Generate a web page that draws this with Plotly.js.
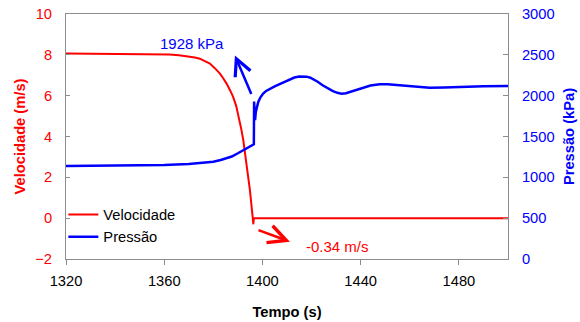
<!DOCTYPE html>
<html>
<head>
<meta charset="utf-8">
<script src="https://cdn.plot.ly/plotly-3.0.1.min.js"></script>
<style>html,body{margin:0;padding:0;background:#fff;}#chart{width:580px;height:322px;}</style>
</head>
<body>
<div id="chart"></div>
<script>
// Velocity (m/s) vs time (s)
var timeVel = [1320, 1335, 1350, 1358, 1362, 1366, 1370.5, 1372.5, 1374.5, 1376.5, 1378.6, 1380.5, 1382.7, 1384, 1385.4, 1387, 1388.1, 1389.3, 1390.5, 1391.4, 1392.2, 1393.5, 1394.9, 1396, 1396.3, 1396.5, 1450, 1500];
var velocidade = [8.07, 8.06, 8.04, 8.03, 8.02, 7.98, 7.92, 7.87, 7.81, 7.71, 7.57, 7.36, 7.08, 6.85, 6.59, 6.22, 5.93, 5.5, 4.9, 4.35, 3.82, 2.68, 1.37, 0.07, -0.3, 0, 0, 0];

// Pressure (kPa) vs time (s)
var timePres = [1320, 1340, 1360, 1370, 1375, 1380, 1383, 1385.4, 1387.5, 1390, 1392.2, 1394.5, 1396.5, 1396.6, 1397, 1397.3, 1397.7, 1398.3, 1399.2, 1400.3, 1401.5, 1403, 1405, 1407, 1409, 1411.2, 1413, 1415, 1416.6, 1418, 1419.5, 1421, 1422.5, 1424.5, 1426.5, 1428.5, 1430.5, 1432.2, 1434, 1436, 1438.3, 1441, 1444, 1447.8, 1451, 1455.9, 1462, 1468.1, 1474, 1479, 1490, 1500];
var pressao = [1140, 1145, 1152, 1162, 1172, 1190, 1212, 1230, 1255, 1295, 1332, 1370, 1405, 1928, 1700, 1800, 1870, 1922, 1980, 2025, 2058, 2086, 2113, 2140, 2168, 2205, 2222, 2234, 2237, 2233, 2220, 2198, 2170, 2128, 2090, 2058, 2035, 2025, 2030, 2048, 2074, 2100, 2124, 2139, 2140, 2127, 2110, 2098, 2100, 2106, 2114, 2118];

var peakLabel = '1928 kPa';
var minLabel = '-0.34 m/s';

var FONT = 'Liberation Sans, Arial, sans-serif';
var GREY = '#8c8c8c';

var traces = [
  {x: timeVel, y: velocidade, type: 'scatter', mode: 'lines', name: 'Velocidade',
   line: {color: '#ff0000', width: 2}, yaxis: 'y', legendgroup: 'a'},
  {x: timePres, y: pressao, type: 'scatter', mode: 'lines', name: 'Pressão',
   line: {color: '#0000ff', width: 2.5}, yaxis: 'y2', legendgroup: 'b'}
];

var layout = {
  width: 580, height: 322,
  margin: {l: 66, r: 72, t: 13.5, b: 63},
  paper_bgcolor: '#fff', plot_bgcolor: '#fff',
  font: {family: FONT, size: 14.7, color: '#000'},
  showlegend: true,
  legend: {x: -0.006, y: 0.247, xanchor: 'left', yanchor: 'top', bgcolor: 'rgba(0,0,0,0)',
           borderwidth: 0, itemwidth: 30, tracegroupgap: 0, traceorder: 'grouped',
           font: {family: FONT, size: 14.7, color: '#000'}},
  xaxis: {range: [1320, 1500], dtick: 40, tick0: 1320, showgrid: false, zeroline: false,
          showline: true, linecolor: GREY, linewidth: 1, mirror: true,
          ticks: 'outside', ticklen: 5, tickcolor: GREY, ticklabelstandoff: 3,
          tickfont: {family: FONT, size: 14.7, color: '#000'},
          title: {text: 'Tempo (s)', font: {family: FONT, size: 14.7, color: '#000', weight: 'bold'}, standoff: 19}},
  yaxis: {range: [-2, 10], dtick: 2, showgrid: false, zeroline: false,
          showline: true, linecolor: GREY, linewidth: 1,
          ticks: 'inside', ticklen: 4, tickcolor: GREY, ticklabelstandoff: 10,
          tickfont: {family: FONT, size: 14.7, color: '#ff0000'},
          title: {text: 'Velocidade (m/s)', font: {family: FONT, size: 14.7, color: '#ff0000', weight: 'bold'}, standoff: 6}},
  yaxis2: {range: [0, 3000], dtick: 500, overlaying: 'y', side: 'right', showgrid: false, zeroline: false,
           showline: true, linecolor: GREY, linewidth: 1,
           ticks: 'inside', ticklen: 5, tickcolor: GREY, ticklabelstandoff: 10,
           tickfont: {family: FONT, size: 14.7, color: '#0000ff'},
           title: {text: 'Pressão (kPa)', font: {family: FONT, size: 14.7, color: '#0000ff', weight: 'bold'}, standoff: 10}},
  annotations: [
    {x: 1388.8, y: 7.97, xref: 'x', yref: 'y', text: '', showarrow: true, ax: 17, ay: 40,
     arrowcolor: '#0000ff', arrowwidth: 2.5, arrowhead: 5, arrowsize: 1.3, standoff: 0},
    {x: 1411.2, y: -1.15, xref: 'x', yref: 'y', text: '', showarrow: true, ax: -33, ay: -12,
     arrowcolor: '#ff0000', arrowwidth: 2.5, arrowhead: 5, arrowsize: 1.4, standoff: 0},
    {x: 1371.5, y: 8.54, xref: 'x', yref: 'y', text: peakLabel, showarrow: false,
     font: {family: FONT, size: 15, color: '#0000ff'}},
    {x: 1430.7, y: -1.39, xref: 'x', yref: 'y', text: minLabel, showarrow: false,
     font: {family: FONT, size: 15, color: '#ff0000'}}
  ]
};

Plotly.newPlot('chart', traces, layout, {displayModeBar: false, staticPlot: true});
</script>
</body>
</html>
